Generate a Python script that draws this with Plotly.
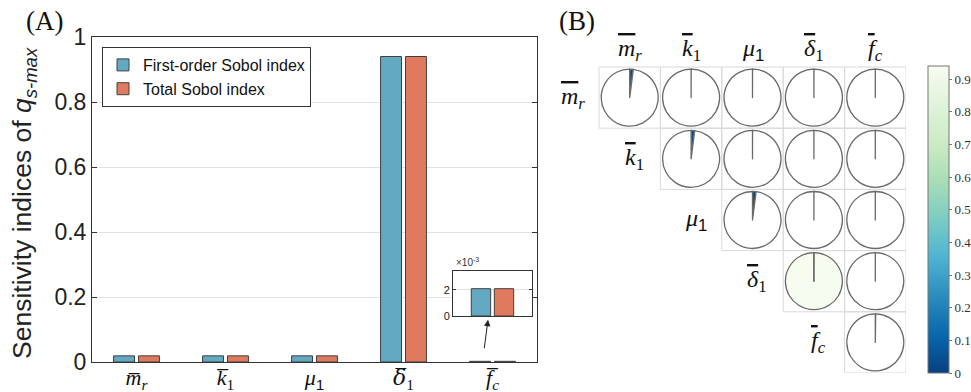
import plotly.graph_objects as go
from plotly.colors import sample_colorscale, sequential

# ---------------- data ----------------
params_html = [
    '<i><span style="text-decoration:overline">m</span></i><sub><i>r</i></sub>',
    '<i><span style="text-decoration:overline">k</span></i><sub>1</sub>',
    '<i>μ</i><sub><span style="font-family:Liberation Sans">1</span></sub>',
    '<i><span style="text-decoration:overline">δ</span></i><sub>1</sub>',
    '<i><span style="text-decoration:overline">f</span></i><sub><i>c</i></sub>',
]
params_tick = [
    '<i>m\u0305</i><sub><i>r</i></sub>',
    '<i>k\u0305</i><sub>1</sub>',
    '<i>μ</i><sub><span style="font-family:Liberation Sans">1</span></sub>',
    '<i><span style="font-family:DejaVu Serif">δ\u0305</span></i><sub>1</sub>',
    '<i>f\u0305</i><sub><i>c</i></sub>',
]
first_order = [0.019, 0.019, 0.019, 0.940, 0.0021]
total_order = [0.019, 0.019, 0.019, 0.940, 0.0021]
# second-order indices (upper triangle, row i, col j>i)
second_order = [
    [None, 0.0003, 0.0002, 0.0004, 0.0001],
    [None, None, 0.0002, 0.0003, 0.0001],
    [None, None, None, 0.0003, 0.0001],
    [None, None, None, None, 0.0002],
    [None, None, None, None, None],
]
ytick_vals = [0, 0.2, 0.4, 0.6, 0.8, 1]
ytick_text = ['0', '0.2', '0.4', '0.6', '0.8', '1']
cbar_ticks = [0, 0.1, 0.2, 0.3, 0.4, 0.5, 0.6, 0.7, 0.8, 0.9]

# ---------------- style ----------------
W, H = 971, 392
BLUE = '#62A9C1'
RED = '#E07A5E'
SANS = 'Liberation Sans, Arial, sans-serif'
SERIF = 'Liberation Serif, Times New Roman, serif'
cscale_colors = list(reversed(sequential.GnBu))
cscale = [[i / (len(cscale_colors) - 1), c] for i, c in enumerate(cscale_colors)]
vmax = max(first_order)

def px_x(p):
    return p / W

def px_y(p):
    return 1 - p / H

fig = go.Figure()

n = len(params_html)
idx = list(range(n))

# ---- main bars ----
fig.add_trace(go.Bar(x=idx, y=first_order, name='First-order Sobol index',
                     marker=dict(color=BLUE, line=dict(color='#404040', width=1)),
                     xaxis='x', yaxis='y'))
fig.add_trace(go.Bar(x=idx, y=total_order, name='Total Sobol index',
                     marker=dict(color=RED, line=dict(color='#404040', width=1)),
                     xaxis='x', yaxis='y'))
# ---- inset bars (last parameter) ----
fig.add_trace(go.Bar(x=[0], y=[first_order[-1]], showlegend=False,
                     marker=dict(color=BLUE, line=dict(color='#404040', width=1)),
                     xaxis='x3', yaxis='y3'))
fig.add_trace(go.Bar(x=[0], y=[total_order[-1]], showlegend=False,
                     marker=dict(color=RED, line=dict(color='#404040', width=1)),
                     xaxis='x3', yaxis='y3'))

# ---- pie matrix ----
GX0, GX1, GY0, GY1 = 599, 906, 67, 373
cw = (GX1 - GX0) / n
ch = (GY1 - GY0) / n
rad = 28.5
shapes = []
for i in range(n):
    for j in range(i, n):
        v = first_order[i] if i == j else second_order[i][j]
        t = min(v / vmax, 1.0)
        col = sample_colorscale(cscale, [t])[0]
        cx = GX0 + (j + 0.5) * cw
        cy = GY0 + (i + 0.5) * ch
        fig.add_trace(go.Pie(
            values=[v, max(vmax - v, vmax * 1e-4)], sort=False,
            direction='clockwise', rotation=0, textinfo='none',
            hoverinfo='skip', showlegend=False,
            marker=dict(colors=[col, 'white'], line=dict(color='#6a6a6a', width=1.3)),
            domain=dict(x=[px_x(cx - rad), px_x(cx + rad)],
                        y=[px_y(cy + rad), px_y(cy - rad)])))
        shapes.append(dict(type='rect', xref='x2', yref='y2',
                           x0=j + 0.5, x1=j + 1.5, y0=i + 0.5, y1=i + 1.5,
                           line=dict(color='#D9D9D9', width=1), layer='below'))

# colorbar carrier
fig.add_trace(go.Scatter(x=[1, 1], y=[1, 1], mode='markers', xaxis='x2', yaxis='y2',
                         showlegend=False, hoverinfo='skip',
                         marker=dict(size=1, opacity=0, color=[0, vmax], cmin=0, cmax=vmax,
                                     colorscale=cscale, showscale=True,
                                     colorbar=dict(x=px_x(928), xanchor='left',
                                                   y=px_y((66 + 373) / 2), yanchor='middle',
                                                   len=(373 - 66) / H, lenmode='fraction',
                                                   thickness=21, thicknessmode='pixels',
                                                   outlinecolor='#777', outlinewidth=1,
                                                   tickvals=cbar_ticks, ticks='outside',
                                                   ticklen=3, tickcolor='#777',
                                                   tickfont=dict(family=SERIF, size=13, color='#333'),
                                                   xpad=0, ypad=0))))

annotations = []
# panel labels
annotations.append(dict(text='(A)', x=px_x(44), y=px_y(21), xref='paper', yref='paper',
                        xanchor='center', yanchor='middle',
                        showarrow=False, font=dict(family=SERIF, size=27, color='#111')))
annotations.append(dict(text='(B)', x=px_x(577), y=px_y(21), xref='paper', yref='paper',
                        xanchor='center', yanchor='middle',
                        showarrow=False, font=dict(family=SERIF, size=27, color='#111')))
# y title
annotations.append(dict(text='Sensitivity indices of <i>q</i><sub><i>s-max</i></sub>',
                        x=px_x(24), y=px_y(203), xref='paper', yref='paper',
                        xanchor='center', yanchor='middle', textangle=-90, showarrow=False,
                        font=dict(family=SANS, size=26.5, color='#222')))
# matrix headers & row labels
for k in range(n):
    annotations.append(dict(text=params_html[k], x=k + 1, y=0.22, xref='x2', yref='y2',
                            xanchor='center', yanchor='middle',
                            showarrow=False, font=dict(family=SERIF, size=24, color='#111')))
    annotations.append(dict(text=params_html[k], x=k + 1 - 0.5 - 0.42, y=k + 1,
                            xref='x2', yref='y2', xanchor='center', yanchor='middle',
                            showarrow=False,
                            font=dict(family=SERIF, size=24, color='#111')))
# inset exponent
annotations.append(dict(text='×10<sup>-3</sup>', x=px_x(454), y=px_y(270), xref='paper',
                        yref='paper', xanchor='left', yanchor='bottom', showarrow=False,
                        font=dict(family=SANS, size=10, color='#333')))
# arrow to inset
annotations.append(dict(x=3.95, y=0.13, xref='x', yref='y', ax=-4, ay=30,
                        showarrow=True, arrowhead=2, arrowsize=1.3, arrowwidth=1,
                        arrowcolor='#222', text=''))

fig.update_layout(
    width=W, height=H, margin=dict(l=0, r=0, t=0, b=0, autoexpand=False),
    paper_bgcolor='white', plot_bgcolor='white',
    barmode='group', bargap=0.44, bargroupgap=0.16,
    font=dict(family=SANS, color='#222'),
    showlegend=True,
    legend=dict(x=px_x(102), y=px_y(47), xanchor='left', yanchor='top',
                bordercolor='#333', borderwidth=1, bgcolor='white',
                font=dict(family=SANS, size=16, color='#111'),
                itemwidth=30, tracegroupgap=0),
    xaxis=dict(domain=[px_x(92), px_x(537)], range=[-0.5, n - 0.5],
               tickvals=idx, ticktext=params_tick, ticks='',
               tickfont=dict(family=SERIF, size=22, color='#111'),
               ticklabelstandoff=-4,
               showline=True, mirror=True, linecolor='#333', linewidth=1,
               showgrid=False, zeroline=False, fixedrange=True, automargin=False),
    yaxis=dict(domain=[px_y(362), px_y(37)], range=[0, 1],
               tickvals=ytick_vals, ticktext=ytick_text,
               tickfont=dict(family=SANS, size=23, color='#222'),
               ticks='inside', ticklen=5, tickcolor='#333',
               showline=True, mirror='ticks', linecolor='#333', linewidth=1,
               showgrid=True, gridcolor='#E3E3E3', zeroline=False, automargin=False),
    xaxis2=dict(domain=[px_x(GX0 - cw), px_x(GX1)], range=[-0.5, n + 0.5], visible=False,
                fixedrange=True, automargin=False),
    yaxis2=dict(domain=[px_y(GY1), px_y(GY0 - ch)], range=[n + 0.5, -0.5], visible=False,
                fixedrange=True, automargin=False),
    xaxis3=dict(domain=[px_x(453), px_x(532)], range=[-0.48, 0.48], showticklabels=False,
                ticks='', showline=True, mirror=True, linecolor='#333', linewidth=1,
                showgrid=False, zeroline=False, fixedrange=True, anchor='y3', automargin=False),
    yaxis3=dict(domain=[px_y(316), px_y(271)], range=[0, 0.00346],
                tickvals=[0, 0.002], ticktext=['0', '2'],
                tickfont=dict(family=SANS, size=11, color='#222'),
                ticks='inside', ticklen=3, tickcolor='#333',
                showline=True, mirror='ticks', linecolor='#333', linewidth=1,
                showgrid=True, gridcolor='#E3E3E3', zeroline=False, fixedrange=True,
                anchor='x3', automargin=False),
    shapes=shapes,
    annotations=annotations,
)

fig.write_html('out.html')
